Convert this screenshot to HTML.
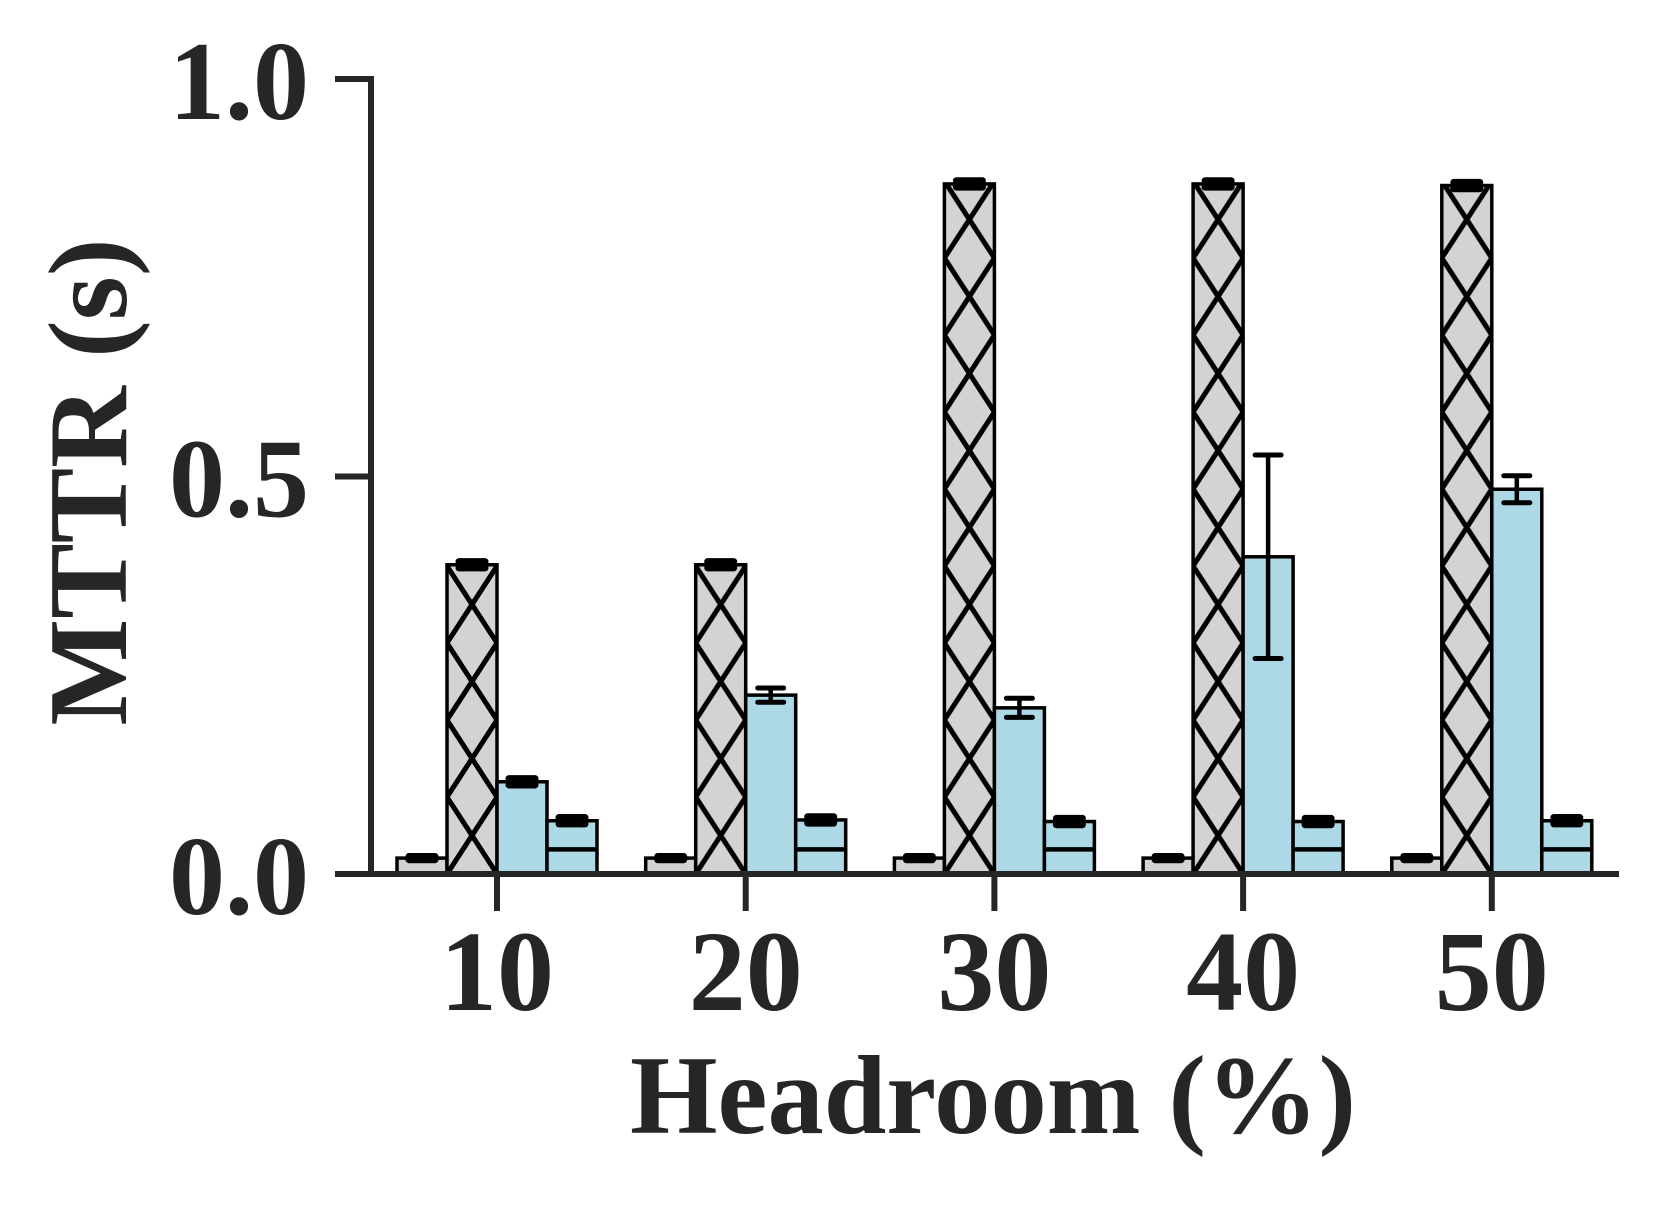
<!DOCTYPE html>
<html><head><meta charset="utf-8"><style>
html,body{margin:0;padding:0;background:#fff;}
svg text{font-family:"Liberation Serif",serif;font-weight:bold;fill:#262626;}
</style></head><body>
<svg id="chart" width="1661" height="1206" viewBox="0 0 1661 1206" xmlns="http://www.w3.org/2000/svg">
<defs id="defs"></defs>
<g id="bars"></g>
<g id="axes"></g>
</svg>
<script>
const categories = ["10","20","30","40","50"];
const seriesA = [0.02,0.02,0.02,0.02,0.02];
const seriesAErr = [0.002,0.002,0.002,0.002,0.002];
const seriesB = [0.389,0.389,0.868,0.868,0.866];
const seriesBErr = [0.004,0.004,0.004,0.004,0.004];
const seriesC = [0.116,0.225,0.209,0.399,0.484];
const seriesCErr = [0.004,0.009,0.012,0.128,0.017];
const seriesD = [0.067,0.068,0.066,0.066,0.067];
const seriesDErr = [0.004,0.004,0.004,0.004,0.004];
const seriesDInner = [0.031,0.031,0.031,0.031,0.031];
const yTicks = [0,0.5,1.0];
const yTickLabels = ["0.0","0.5","1.0"];

const NS="http://www.w3.org/2000/svg";
const svg=document.getElementById('chart');
const barsG=document.getElementById('bars');
const axesG=document.getElementById('axes');
const defs=document.getElementById('defs');
const y0=874, y1=79;
function yScale(v){return y0-v*(y0-y1);}
function xCenter(i){return 497+i*248.7;}
const BW=50;
function mk(tag,attrs,parent){const e=document.createElementNS(NS,tag);for(const k in attrs)e.setAttribute(k,attrs[k]);(parent||svg).appendChild(e);return e;}

function drawBar(x,v,fill,name){
  const yt=yScale(v);
  const r=mk('rect',{x:x,y:yt,width:BW,height:y0-yt,fill:fill,stroke:'#000','stroke-width':3.5},barsG);
  
  
  return yt;
}
function drawErr(cx,v,e,name){
  const g=mk('g',{},barsG);
  
  
  const ya=yScale(v+e), yb=yScale(v-e);
  const small=(yb-ya)<8;
  mk('line',{x1:cx,x2:cx,y1:ya,y2:yb,stroke:'#000','stroke-width':4.5},g);
  mk('line',{x1:cx-13,x2:cx+13,y1:ya,y2:ya,stroke:'#000','stroke-width':small?7:5,'stroke-linecap':'round'},g);
  mk('line',{x1:cx-13,x2:cx+13,y1:yb,y2:yb,stroke:'#000','stroke-width':small?7:5,'stroke-linecap':'round'},g);
}

categories.forEach((c,i)=>{
  const cx=xCenter(i);
  const xa=cx-100, xb=cx-50, xc=cx, xd=cx+50;
  drawBar(xa,seriesA[i],'#d3d3d3','bar-a-'+c);
  drawErr(xa+BW/2,seriesA[i],seriesAErr[i],'error-a-'+c);
  const p=mk('pattern',{id:'hatch'+i,patternUnits:'userSpaceOnUse',x:xb,y:y0,width:BW,height:154},defs);
  mk('rect',{x:0,y:0,width:BW,height:154,fill:'#d3d3d3'},p);
  mk('path',{d:'M0,0 L50,77 L0,154 M50,0 L0,77 L50,154',stroke:'#000','stroke-width':5,fill:'none'},p);
  drawBar(xb,seriesB[i],'url(#hatch'+i+')','bar-b-'+c);
  drawErr(xb+BW/2,seriesB[i],seriesBErr[i],'error-b-'+c);
  drawBar(xc,seriesC[i],'#add8e6','bar-c-'+c);
  drawErr(xc+BW/2,seriesC[i],seriesCErr[i],'error-c-'+c);
  drawBar(xd,seriesD[i],'#add8e6','bar-d-'+c);
  const il=mk('line',{x1:xd,x2:xd+BW,y1:yScale(seriesDInner[i]),y2:yScale(seriesDInner[i]),stroke:'#000','stroke-width':4.5},barsG);
  
  
  drawErr(xd+BW/2,seriesD[i],seriesDErr[i],'error-d-'+c);
  const t=mk('line',{x1:cx,x2:cx,y1:y0,y2:911,stroke:'#262626','stroke-width':6},axesG);
  
  
  const tl=mk('text',{x:cx,y:1010,'font-size':114,'text-anchor':'middle'},axesG);
  tl.textContent=c;
  
  
});

const ya=mk('line',{x1:371,x2:371,y1:y1-3,y2:y0+3,stroke:'#262626','stroke-width':6},axesG);


const xa=mk('line',{x1:335,x2:1619,y1:y0,y2:y0,stroke:'#262626','stroke-width':6},axesG);


yTicks.forEach((v,i)=>{
  const y=yScale(v);
  const t=mk('line',{x1:335,x2:371,y1:y,y2:y,stroke:'#262626','stroke-width':6},axesG);
  
  
  const l=mk('text',{x:309,y:y+40,'font-size':112,'text-anchor':'end'},axesG);
  l.textContent=yTickLabels[i];
  
  
});
const xt=mk('text',{x:993,y:1133,'font-size':112,'text-anchor':'middle',textLength:726,lengthAdjust:'spacingAndGlyphs'},axesG);
xt.textContent='Headroom (%)';


const yt=mk('text',{x:0,y:0,'font-size':112,'text-anchor':'middle',textLength:487,lengthAdjust:'spacingAndGlyphs',transform:'translate(126,482) rotate(-90)'},axesG);
yt.textContent='MTTR (s)';


</script>
</body></html>
